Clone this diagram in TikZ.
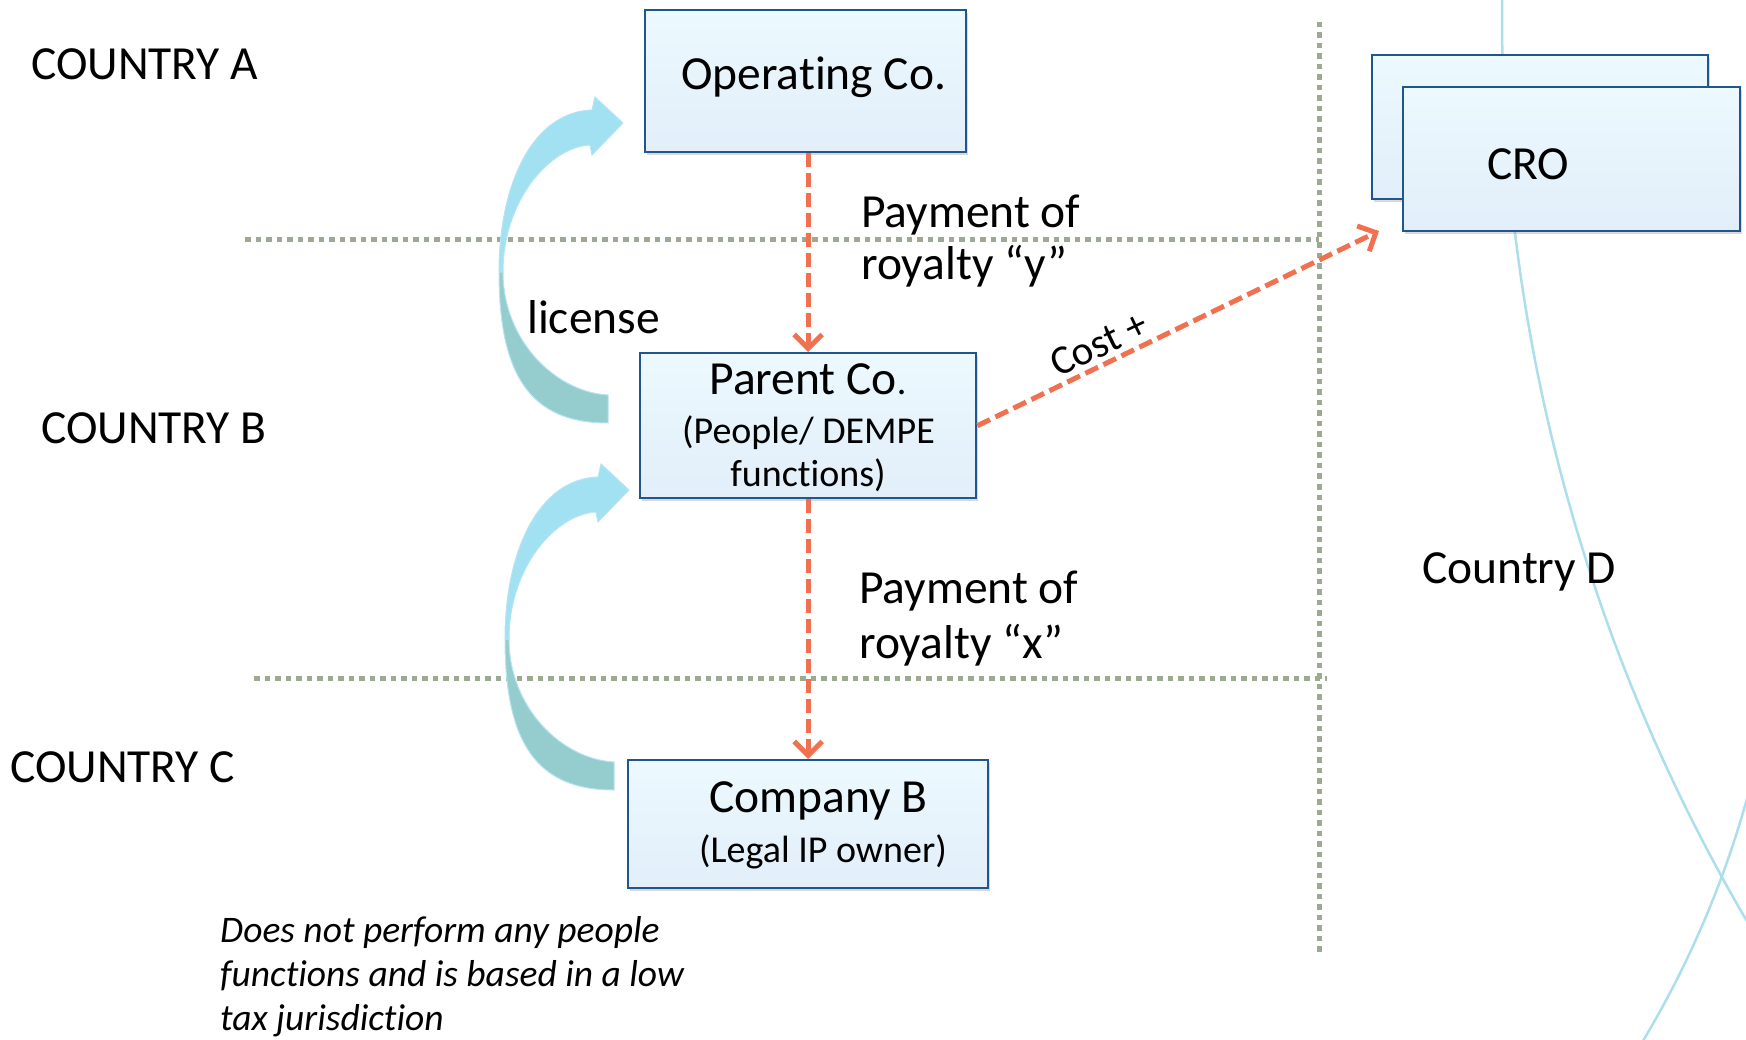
\documentclass[tikz,border=0pt]{standalone}
\usepackage{fontspec}
\setmainfont{Carlito}[Ligatures=NoCommon]
\usetikzlibrary{arrows.meta,shadows}
\definecolor{boxborder}{RGB}{31,86,142}
\definecolor{boxtop}{RGB}{236,249,254}
\definecolor{boxbot}{RGB}{226,238,249}
\definecolor{dotgray}{RGB}{155,170,145}
\definecolor{payorange}{RGB}{241,112,80}
\definecolor{arcblue}{RGB}{172,222,236}
\definecolor{licblue}{RGB}{162,225,241}
\definecolor{licteal}{RGB}{149,204,205}
\definecolor{licedge}{RGB}{182,228,242}
\begin{document}
\begin{tikzpicture}[x=1pt,y=-1pt,
  entity/.style={draw=boxborder, line width=2.4pt, top color=boxtop, bottom color=boxbot,
    inner sep=0pt, anchor=north west,
    drop shadow={opacity=0.3, shadow xshift=1.5pt, shadow yshift=-3pt}},
  bigtxt/.style={font=\fontsize{47.5}{50}\selectfont, inner sep=0pt, anchor=base west},
  midtxt/.style={font=\fontsize{38}{42}\selectfont, inner sep=0pt, anchor=base},
  notetxt/.style={font=\fontsize{37.5}{42}\selectfont\itshape, inner sep=0pt, anchor=base west},
  dotline/.style={draw=dotgray, line width=5pt, dash pattern=on 5.5pt off 5pt},
  payarrow/.style={draw=payorange, line width=5pt, dash pattern=on 14pt off 6pt,
    -{Straight Barb[length=14pt,width=28pt]}},
  arcline/.style={draw=arcblue, line width=2.5pt},
  licupper/.style={fill=licblue, draw=licedge, line width=1pt},
  liclower/.style={fill=licteal, draw=licedge, line width=1pt}
]
\useasboundingbox (0,0) rectangle (1746,1040);

% background arcs
\begin{scope}
  \clip (0,0) rectangle (1746,1040);
  \draw[arcline] (3295,16) circle[radius=1793];
\end{scope}
\begin{scope}
  \clip (1400,780) rectangle (1746,1040);
  \draw[arcline] (793,533) circle[radius=990];
\end{scope}

% country borders
\draw[dotline] (245,240) -- (1319,240);
\draw[dotline] (254,678) -- (1327,678);
\draw[dotline] (1319,22) -- (1319,955);

% boxes
\node[entity, minimum width=321pt, minimum height=142pt] (op) at (644,9) {};
\node[entity, minimum width=336pt, minimum height=145pt] (parent) at (639,352) {};
\node[entity, minimum width=360pt, minimum height=128pt] (compB) at (627,759) {};
\node[entity, minimum width=336pt, minimum height=144pt] (croBack) at (1371,54) {};
\node[entity, minimum width=337pt, minimum height=144pt] (croFront) at (1402,86) {};

% box texts
\node[bigtxt] (opText) at (681,90) {Operating Co.};
\node[bigtxt, anchor=base] (parentL1) at (808,395) {Parent Co{\fontsize{38}{40}\selectfont.}};
\node[midtxt] (parentL2) at (808.5,443) {(People/ DEMPE};
\node[midtxt] (parentL3) at (808,486) {functions)};
\node[bigtxt, anchor=base] (compBL1) at (818.5,812) {Company B};
\node[midtxt] (compBL2) at (823,862) {(Legal IP owner)};
\node[bigtxt] (croText) at (1487,180) {CRO};

% country labels
\node[bigtxt] (countryA) at (31,80) {COUNTRY A};
\node[bigtxt] (countryB) at (41,443) {COUNTRY B};
\node[bigtxt] (countryC) at (10,782) {COUNTRY C};
\node[bigtxt] (countryD) at (1422,583) {Country D};

% payment labels
\node[bigtxt] (payY1) at (861,228) {Payment of};
\node[bigtxt] (payY2) at (861,280) {royalty “y”};
\node[bigtxt] (payX1) at (859,603) {Payment of};
\node[bigtxt] (payX2) at (859,658) {royalty “x”};
\node[bigtxt] (license) at (527,334) {license};

% note
\node[notetxt] (note1) at (220,942) {Does not perform any people};
\node[notetxt] (note2) at (220,986) {functions and is based in a low};
\node[notetxt] (note3) at (220,1030) {tax jurisdiction};

% curved license arrows
\foreach \dx/\dy in {0/0, 6/367}{
\begin{scope}[shift={(\dx,\dy)}]
  \path[liclower] (499,272) .. controls (499,375) and (530,423) .. (608,423)
     -- (608,395) .. controls (555,392) and (503,340) .. (503,272) -- cycle;
  \path[licupper] (499,272) .. controls (499,185) and (532,112) .. (592,110)
     -- (595,97) -- (623,123) -- (592,155) -- (590,145)
     .. controls (550,147) and (503,200) .. (503,272) -- cycle;
\end{scope}
}

% payment arrows
\coordinate (croTip) at (1379,231);
\draw[payarrow] (op.south -| parent.north) -- (parent.north);
\draw[payarrow] (parent.south) -- (compB.north -| parent.south);
\draw[payarrow] (parent.east) -- (croTip);
\node[font=\fontsize{41}{44}\selectfont, inner sep=0pt, anchor=base west, rotate=25.7] (cost) at (1058,378) {Cost +};
\end{tikzpicture}
\end{document}
